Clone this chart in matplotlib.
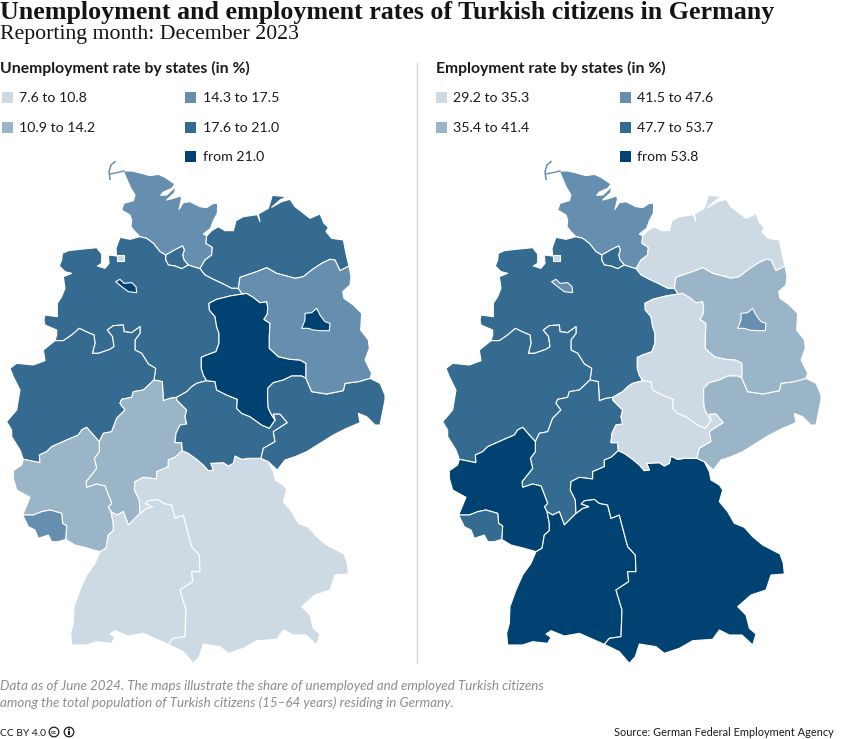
import matplotlib
matplotlib.use("Agg")
import matplotlib.pyplot as plt
from matplotlib.patches import Polygon, Rectangle, Circle

W, H = 850, 739
SANS = ["Lato", "Noto Sans", "DejaVu Sans"]
SERIF = ["Liberation Serif", "DejaVu Serif"]

# legend classes, light to dark
colors = ["#cdd9e3", "#9ab4c8", "#668eae", "#356b91", "#004373"]
unemp_labels = ["7.6 to 10.8", "10.9 to 14.2", "14.3 to 17.5", "17.6 to 21.0", "from 21.0"]
emp_labels = ["29.2 to 35.3", "35.4 to 41.4", "41.5 to 47.6", "47.7 to 53.7", "from 53.8"]

# class index of each state
unemp_class = {"SH": 2, "HH": 3, "MV": 3, "NI": 3, "HB": 4, "BHV": 0, "NW": 3, "HE": 1, "RP": 1, "SL": 2,
               "BW": 0, "BY": 0, "TH": 3, "SN": 3, "ST": 4, "BB": 2, "BE": 4}
emp_class = {"SH": 2, "HH": 3, "MV": 0, "NI": 3, "HB": 2, "BHV": 0, "NW": 3, "HE": 3, "RP": 4, "SL": 3,
             "BW": 4, "BY": 4, "TH": 0, "SN": 1, "ST": 0, "BB": 1, "BE": 2}

# borders between states (units: 1/3 px, origin top left of the map)
elbe_w = [(420, 230), (440, 235), (460, 250), (480, 275), (497, 285)]
hh_n = [(497, 285), (510, 278), (520, 272), (535, 264), (548, 258), (553, 270), (548, 285), (552, 300), (565, 315)]
hh_s = [(497, 285), (497, 300), (505, 315), (525, 318), (545, 326), (565, 315)]
elbe_e = [(565, 315), (580, 320), (600, 326)]
sh_mv = [(600, 326), (615, 300), (635, 285), (637, 262), (618, 250), (620, 228)]
ni_mv = [(600, 326), (615, 345), (640, 358), (670, 372), (695, 385), (715, 385)]
mv_bb = [(715, 385), (720, 352), (770, 335), (800, 323), (830, 340), (860, 348), (885, 355), (910, 350), (935, 330),
         (965, 310), (990, 298), (1005, 300), (1020, 332), (1047, 318)]
ni_bb = [(715, 385), (727, 402)]
bb_st = [(727, 402), (740, 400), (760, 412), (780, 428), (800, 425), (803, 440), (802, 462), (792, 478), (810, 490),
         (808, 530), (808, 565), (835, 590), (870, 598), (900, 600), (918, 610), (918, 655)]
bb_sn = [(918, 655), (935, 695), (980, 702), (1030, 692), (1035, 670), (1075, 665), (1110, 655)]
ni_st = [(727, 402), (690, 408), (650, 418), (627, 430), (628, 450), (645, 470), (650, 500), (657, 520), (657, 550),
         (648, 575), (620, 585), (604, 592), (604, 625), (610, 645), (620, 662)]
st_th = [(620, 662), (645, 665), (650, 690), (680, 705), (712, 718), (710, 745), (725, 760), (750, 770), (785, 795),
         (808, 805), (825, 780)]
st_sn = [(825, 780), (815, 765), (805, 745), (803, 720), (803, 685), (820, 668), (850, 660), (875, 648), (905, 648),
         (918, 655)]
th_sn = [(825, 780), (820, 762), (840, 762), (862, 788), (820, 815), (825, 845), (790, 865), (783, 895)]
ni_th = [(530, 712), (560, 695), (575, 680), (590, 670), (620, 662)]
ni_he = [(462, 660), (487, 665), (490, 722), (510, 715), (530, 712)]
he_th = [(530, 712), (530, 720), (560, 750), (555, 770), (560, 792), (540, 795), (528, 820), (525, 848), (545, 848),
         (547, 872)]
by_th = [(547, 872), (565, 880), (590, 898), (610, 915), (625, 932), (640, 930), (632, 910), (670, 908), (685, 918),
         (700, 910), (705, 888), (725, 898), (745, 895), (783, 895)]
by_he = [(547, 872), (525, 892), (505, 900), (505, 920), (470, 935), (470, 957), (430, 952), (405, 965), (403, 990),
         (418, 1020), (420, 1060)]
bw_by = [(420, 1060), (440, 1045), (458, 1040), (435, 1032), (445, 1022), (475, 1018), (490, 1030), (515, 1035),
         (525, 1075), (550, 1065), (555, 1085), (575, 1160), (598, 1185), (600, 1235), (575, 1235), (578, 1265),
         (540, 1290), (558, 1350), (555, 1430), (520, 1435), (505, 1453)]
bw_he = [(420, 1060), (385, 1095), (370, 1055), (350, 1065), (333, 1055)]
he_rp = [(333, 1055), (325, 1040), (335, 1030), (315, 978), (290, 972), (260, 982), (258, 965), (290, 925), (283, 895),
         (298, 875), (298, 845)]
he_nw = [(298, 845), (310, 820), (335, 815), (350, 775), (375, 750), (360, 730), (365, 718), (395, 712), (400, 695),
         (430, 690), (462, 660)]
ni_nw = [(462, 660), (467, 625), (445, 612), (425, 580), (405, 570), (405, 540), (420, 520), (420, 500), (395, 518),
         (372, 515), (370, 495), (340, 497), (322, 510), (338, 530), (342, 560), (330, 568), (295, 580), (277, 580),
         (285, 550), (282, 525), (258, 515), (238, 505), (215, 525), (190, 542), (165, 542)]
nw_rp = [(298, 845), (280, 825), (260, 802), (245, 810), (235, 825), (200, 840), (155, 860), (140, 875), (118, 885),
         (120, 908), (70, 898)]
rp_sl = [(68, 1065), (100, 1065), (125, 1055), (150, 1050), (185, 1060), (188, 1090), (200, 1098), (197, 1138)]
rp_bw = [(333, 1055), (340, 1090), (340, 1112), (325, 1125), (318, 1165), (300, 1175)]

# outer coast and national border
coast_sh = [(620, 228), (610, 222), (632, 205), (640, 182), (652, 160), (653, 130), (640, 130), (620, 143), (600, 140),
            (570, 125), (550, 128), (537, 148), (545, 115), (540, 108), (520, 115), (500, 120), (505, 115), (524, 98),
            (527, 80), (500, 105), (482, 106), (490, 96), (515, 85), (525, 72), (495, 52), (475, 43), (450, 47),
            (425, 40), (395, 33), (370, 33), (390, 80), (405, 105), (400, 122), (372, 130), (365, 150), (390, 165),
            (395, 180), (393, 200), (405, 215), (420, 230)]
coast_ni = [(420, 230), (390, 238), (360, 232), (348, 265), (350, 288), (325, 285), (327, 310), (315, 325), (292, 318),
            (305, 310), (305, 282), (290, 263), (240, 268), (205, 272), (187, 280), (185, 300), (178, 318), (195, 335),
            (215, 340), (190, 350), (195, 385), (185, 410), (172, 430), (172, 470), (135, 465), (132, 480), (135, 495),
            (170, 510), (170, 525), (165, 542)]
west_nw = [(165, 542), (130, 570), (135, 602), (100, 615), (50, 610), (30, 625), (40, 650), (60, 690), (50, 750),
           (20, 785), (35, 810), (35, 830), (60, 870), (70, 898)]
west_rp = [(70, 898), (65, 915), (40, 932), (40, 955), (50, 990), (90, 1012), (68, 1065)]
south_sl = [(68, 1065), (85, 1100), (105, 1110), (115, 1135), (145, 1125), (155, 1145), (175, 1145), (197, 1138)]
south_rp = [(197, 1138), (225, 1155), (265, 1165), (300, 1175)]
south_bw = [(300, 1175), (285, 1210), (260, 1245), (240, 1290), (222, 1340), (220, 1390), (212, 1420), (215, 1455),
            (260, 1455), (290, 1445), (335, 1450), (345, 1432), (330, 1422), (345, 1412), (385, 1428), (430, 1420),
            (505, 1453)]
south_by = [(505, 1453), (550, 1475), (580, 1510), (598, 1490), (610, 1452), (660, 1460), (685, 1480), (730, 1465),
            (770, 1442), (830, 1438), (850, 1410), (880, 1425), (918, 1425), (950, 1455), (960, 1422), (940, 1405),
            (930, 1365), (905, 1340), (945, 1305), (990, 1290), (1005, 1245), (1045, 1242), (1042, 1210), (1032, 1182),
            (980, 1155), (950, 1130), (925, 1102), (895, 1090), (875, 1055), (850, 1025), (860, 990), (850, 975),
            (825, 960), (820, 935), (805, 905), (783, 895)]
east_sn = [(783, 895), (805, 905), (832, 930), (855, 900), (885, 890), (920, 875), (960, 850), (1000, 825), (1040, 805),
           (1080, 788), (1075, 760), (1100, 770), (1125, 795), (1140, 795), (1155, 720), (1155, 705), (1140, 670),
           (1110, 655)]
east_bb = [(1110, 655), (1115, 640), (1095, 600), (1108, 565), (1105, 540), (1082, 510), (1085, 460), (1060, 435),
           (1032, 415), (1028, 395), (1050, 375), (1053, 350), (1047, 318)]
coast_mv = [(1047, 318), (1040, 290), (1030, 240), (995, 235), (978, 215), (985, 202), (972, 190), (960, 162),
            (930, 175), (885, 140), (870, 118), (845, 125), (815, 142), (840, 120), (860, 110), (817, 106), (805, 145),
            (775, 162), (780, 185), (772, 164), (730, 170), (708, 182), (700, 212), (675, 212), (655, 200), (635, 212),
            (620, 228)]

# small enclaves and the Sylt spit
bremen = [(347, 365), (360, 358), (372, 370), (395, 368), (408, 380), (410, 398), (385, 395), (365, 380)]
bremerhaven = [(352, 284), (372, 284), (372, 303), (352, 303)]
berlin = [(905, 505), (915, 480), (915, 460), (935, 458), (950, 445), (960, 465), (975, 485), (990, 490), (988, 512),
          (960, 512), (940, 510), (925, 505)]
sylt = [(345, 5), (333, 15), (327, 35), (330, 58)]
sylt_arm = [(330, 42), (350, 38), (372, 33)]


def r(seg):
    return seg[::-1]


states = {
    "SH": coast_sh + elbe_w + hh_n + elbe_e + sh_mv,
    "HH": hh_n + r(hh_s),
    "MV": sh_mv + r(coast_mv) + r(mv_bb) + r(ni_mv),
    "NI": r(coast_ni) + elbe_w + hh_s + elbe_e + ni_mv + ni_bb + ni_st + r(ni_th) + r(ni_he) + ni_nw,
    "NW": r(ni_nw) + r(he_nw) + nw_rp + r(west_nw),
    "HE": ni_he + he_th + by_he + bw_he + he_rp + he_nw,
    "RP": r(nw_rp) + r(he_rp) + rp_bw + r(south_rp) + r(rp_sl) + r(west_rp),
    "SL": rp_sl + r(south_sl),
    "BW": r(bw_he) + bw_by + r(south_bw) + r(rp_bw),
    "BY": by_th + r(south_by) + r(bw_by) + r(by_he),
    "TH": ni_th + st_th + th_sn + r(by_th) + r(he_th),
    "ST": r(ni_st) + bb_st + r(st_sn) + r(st_th),
    "SN": r(th_sn) + st_sn + bb_sn + r(east_sn),
    "BB": ni_bb + bb_st + bb_sn + east_bb + r(mv_bb),
    "HB": bremen,
    "BHV": bremerhaven,
    "BE": berlin,
}

plt.rcParams["font.family"] = SANS
fig = plt.figure(figsize=(W / 100, H / 100), dpi=100, facecolor="white")


def px_text(x, y, s, **kw):
    kw.setdefault("va", "baseline")
    fig.text(x / W, 1 - y / H, s, **kw)


def px_axes(x0, y0, x1, y1):
    ax = fig.add_axes([x0 / W, 1 - y1 / H, (x1 - x0) / W, (y1 - y0) / H])
    ax.axis("off")
    return ax


def draw_map(x0, classes):
    ax = px_axes(x0, 160, x0 + 400, 670)
    ax.set_xlim(0, 1200)
    ax.set_ylim(1530, 0)
    for name, pts in states.items():
        ax.add_patch(Polygon(pts, closed=True, fc=colors[classes[name]], ec="white", lw=0.8, joinstyle="round"))
    c = colors[classes["SH"]]
    ax.plot(*zip(*sylt), color=c, lw=1.1)
    ax.plot(*zip(*sylt_arm), color=c, lw=1.0)


def draw_legend(x_sw1, x_tx1, x_sw2, x_tx2, labels):
    rows = [(x_sw1, x_tx1, 92), (x_sw1, x_tx1, 122), (x_sw2, x_tx2, 92), (x_sw2, x_tx2, 122), (x_sw2, x_tx2, 151)]
    for (xs, xt, y), col, lab in zip(rows, colors, labels):
        fig.patches.append(Rectangle((xs / W, 1 - (y + 10.5) / H), 10.5 / W, 10.5 / H, fc=col, ec="none",
                                     transform=fig.transFigure, figure=fig))
        px_text(xt, y + 10, lab, fontsize=10.2, color="#1a1a1a")


# titles
px_text(0, 19, "Unemployment and employment rates of Turkish citizens in Germany", family=SERIF, fontsize=18.7,
        fontweight="bold", color="#141414")
px_text(0, 39, "Reporting month: December 2023", family=SERIF, fontsize=15.7, color="#141414")
px_text(0, 73, "Unemployment rate by states (in %)", fontsize=11.3, fontweight="bold", color="#1a1a1a")
px_text(436, 73, "Employment rate by states (in %)", fontsize=11.3, fontweight="bold", color="#1a1a1a")

draw_legend(2, 19, 185, 203, unemp_labels)
draw_legend(436, 453, 620, 637, emp_labels)

fig.add_artist(plt.Line2D([416.5 / W, 416.5 / W], [1 - 63 / H, 1 - 663 / H], color="#d9d9d9", lw=1.0))

draw_map(0, unemp_class)
draw_map(436, emp_class)

# notes and source
px_text(0, 690, "Data as of June 2024. The maps illustrate the share of unemployed and employed Turkish citizens",
        fontsize=9.65, style="italic", color="#8c8c8c")
px_text(0, 707, "among the total population of Turkish citizens (15\u201364 years) residing in Germany.",
        fontsize=9.65, style="italic", color="#8c8c8c")
px_text(0, 736, "CC BY 4.0", fontsize=7.4, color="#1a1a1a")

icon_ax = px_axes(0, 722, 90, 739)
icon_ax.set_xlim(0, 90)
icon_ax.set_ylim(17, 0)
icon_ax.add_patch(Circle((54, 10), 4.8, fc="white", ec="#1a1a1a", lw=0.9))
icon_ax.text(54, 10, "cc", fontsize=4.6, fontweight="bold", ha="center", va="center", color="#1a1a1a")
icon_ax.add_patch(Circle((69, 10), 4.8, fc="white", ec="#1a1a1a", lw=0.9))
icon_ax.add_patch(Circle((69, 7.4), 1.0, fc="#1a1a1a", ec="none"))
icon_ax.add_patch(Rectangle((67.8, 9), 2.4, 4.4, fc="#1a1a1a", ec="none"))

px_text(834, 736, "Source: German Federal Employment Agency", fontsize=7.95, ha="right", color="#1a1a1a")

fig.savefig("out.png", dpi=100, facecolor="white")
